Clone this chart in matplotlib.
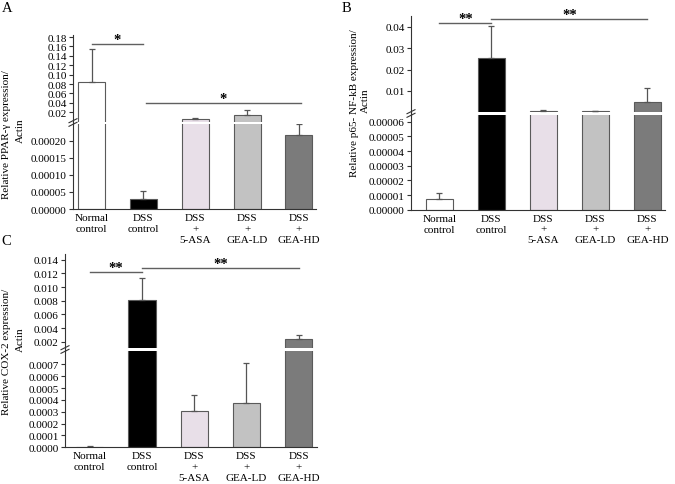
import numpy as np
import matplotlib as mpl
mpl.use('Agg')
import matplotlib.pyplot as plt
from matplotlib.ticker import FormatStrFormatter
from matplotlib.lines import Line2D

plt.rcParams['font.family'] = ['Liberation Serif', 'DejaVu Serif']

groups = ['Normal\ncontrol', 'DSS\ncontrol', 'DSS\n+\n5-ASA', 'DSS\n+\nGEA-LD', 'DSS\n+\nGEA-HD']
bar_colors = ['white', 'black', '#e8dfe8', '#c2c2c2', '#7b7b7b']

# A: PPAR-gamma / actin
ppar_mean = [0.084, 0.00003, 0.006, 0.0145, 0.000217]
ppar_err = [0.071, 0.000022, 0.0008, 0.0095, 0.000032]
# B: p65 NF-kB / actin
p65_mean = [0.0000073, 0.0254, 0.0008, 0.0004, 0.0049]
p65_err = [0.0000041, 0.0151, 0.0003, 0.0002, 0.0063]
# C: COX-2 / actin
cox_mean = [0.000005, 0.0081, 0.000304, 0.000374, 0.00235]
cox_err = [0.000004, 0.0032, 0.000134, 0.000334, 0.00062]

W, H = 675, 485
fig = plt.figure(figsize=(W / 100, H / 100), dpi=100)
FS = 8


def px_axes(left, top, right, bottom):
    return fig.add_axes([left / W, 1 - bottom / H, (right - left) / W, (bottom - top) / H])


def fx(x):
    return x / W


def fy(y):
    return 1 - y / H


def panel(box, ylim_up, ylim_lo, ticks_up, ticks_lo, fmt_up, fmt_lo, xlim, mean, err, sig):
    spine_x, right, up_top, up_bot, lo_top, lo_bot = box
    ax_up = px_axes(spine_x, up_top, right, up_bot)
    ax_lo = px_axes(spine_x, lo_top, right, lo_bot)
    mean = np.asarray(mean)
    err = np.asarray(err)
    x = np.arange(len(groups))
    cols = np.array(bar_colors, dtype=object)

    # upper segment: only bars that reach into it, started below the visible range
    show = mean > ylim_up[0]
    base = ylim_up[0] - (ylim_up[1] - ylim_up[0])
    ax_up.bar(x[show], mean[show] - base, bottom=base, width=0.52, color=list(cols[show]),
              edgecolor='#5a5a5a', linewidth=0.8)
    ax_up.errorbar(x[show], mean[show], yerr=[np.zeros(show.sum()), err[show]], fmt='none',
                   ecolor='#555555', elinewidth=0.9, capsize=2, capthick=0.9)
    # lower segment
    ax_lo.bar(x, mean, width=0.52, color=bar_colors, edgecolor='#5a5a5a', linewidth=0.8)
    low = mean < ylim_lo[1]
    ax_lo.errorbar(x[low], mean[low], yerr=[np.zeros(low.sum()), err[low]], fmt='none',
                   ecolor='#555555', elinewidth=0.9, capsize=2, capthick=0.9)

    for ax in (ax_up, ax_lo):
        ax.set_xlim(*xlim)
        for s in ('top', 'right'):
            ax.spines[s].set_visible(False)
        ax.spines['left'].set_linewidth(0.8)
        ax.spines['left'].set_color('#333333')
        ax.tick_params(axis='y', length=3, width=0.8, labelsize=FS, pad=1.5, color='#333333')
    ax_up.set_ylim(*ylim_up)
    ax_lo.set_ylim(*ylim_lo)
    ax_up.set_yticks(ticks_up)
    ax_lo.set_yticks(ticks_lo)
    ax_up.yaxis.set_major_formatter(FormatStrFormatter(fmt_up))
    ax_lo.yaxis.set_major_formatter(FormatStrFormatter(fmt_lo))
    ax_up.spines['bottom'].set_visible(False)
    ax_up.set_xticks([])
    ax_lo.spines['bottom'].set_linewidth(0.8)
    ax_lo.spines['bottom'].set_color('#333333')
    ax_lo.set_xticks(x)
    ax_lo.set_xticklabels(groups, fontsize=FS, linespacing=1.25)
    ax_lo.tick_params(axis='x', length=0, pad=3)

    # break marks on the y spine
    yb = (up_bot + lo_top) / 2
    fig.add_artist(Line2D([fx(spine_x), fx(spine_x)], [fy(up_bot), fy(lo_top)],
                          color='#333333', lw=0.8))
    for dy in (-1.8, 1.8):
        fig.add_artist(Line2D([fx(spine_x - 4), fx(spine_x + 4)],
                              [fy(yb + dy + 2), fy(yb + dy - 2)], color='#333333', lw=0.8))

    for x0, x1, yy, label in sig:
        ax_up.plot([x0, x1], [yy, yy], color='#606060', lw=1, clip_on=False)
        ax_up.annotate(label, xy=((x0 + x1) / 2, yy), xytext=(0, -1.5), textcoords='offset points',
                       ha='center', va='bottom', fontsize=10.5, fontweight='bold',
                       annotation_clip=False)


panel((73, 316, 36, 122.5, 124.5, 210),
      (0.0004, 0.1843), (0, 0.000251),
      np.arange(0.02, 0.181, 0.02), np.arange(0, 0.00021, 0.00005),
      '%.2f', '%.5f', (-0.36, 4.33), ppar_mean, ppar_err,
      [(0, 1, 0.165, '*'), (1.05, 4.04, 0.0392, '*')])

panel((411, 665, 17, 113, 116, 210.7),
      (0.0001, 0.0451), (0, 0.0000646),
      [0.01, 0.02, 0.03, 0.04], np.arange(0, 0.0000601, 0.00001),
      '%.2f', '%.5f', (-0.545, 4.34), p65_mean, p65_err,
      [(0, 1, 0.0418, '**'), (1, 4, 0.0437, '**')])

panel((65, 317, 255, 349, 352, 448.3),
      (0.00108, 0.01483), (0, 0.000812),
      np.arange(0.002, 0.0141, 0.002), np.arange(0, 0.00071, 0.0001),
      '%.3f', '%.4f', (-0.475, 4.35), cox_mean, cox_err,
      [(0, 1, 0.01216, '**'), (1, 4, 0.01279, '**')])

# y labels (two lines each)
ylabels = [
    ('Relative PPAR-\u03b3 expression/', (7, 135), (20, 131)),
    ('Relative p65- NF-kB expression/', (354, 103), (365, 101)),
    ('Relative COX-2 expression/', (7, 352), (20, 340)),
]
for text, p1, p2 in ylabels:
    fig.text(fx(p1[0]), fy(p1[1]), text, rotation=90, ha='center', va='center', fontsize=FS)
    fig.text(fx(p2[0]), fy(p2[1]), 'Actin', rotation=90, ha='center', va='center', fontsize=FS)

for letter, px, py in [('A', 7, 9), ('B', 346, 8), ('C', 6, 242)]:
    fig.text(fx(px), fy(py), letter, ha='center', va='center', fontsize=10.5)

fig.savefig('out.png', dpi=100, facecolor='w')
